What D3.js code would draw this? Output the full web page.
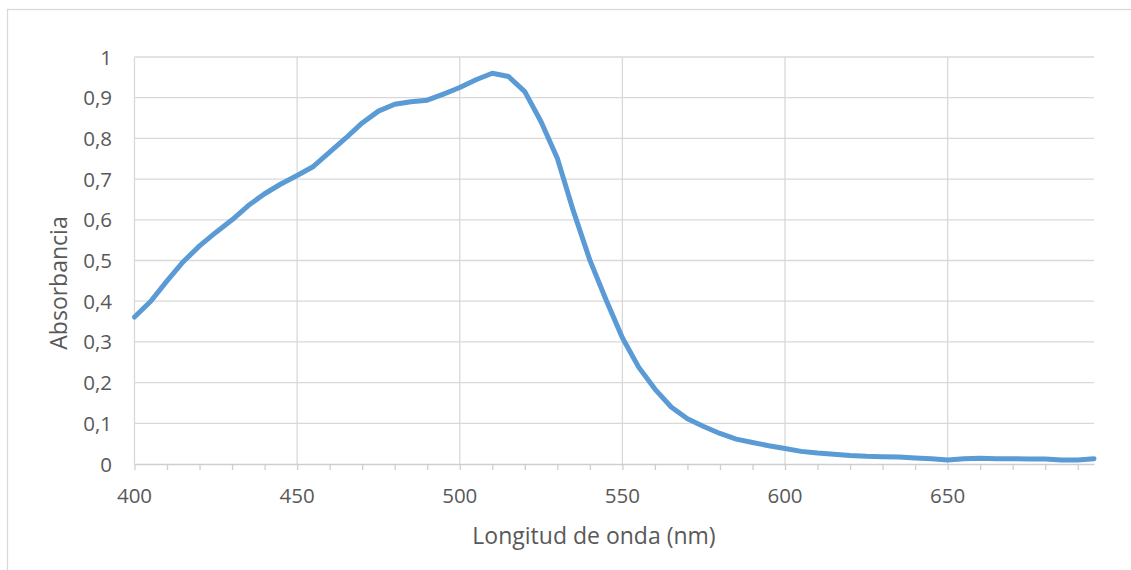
<!DOCTYPE html>
<html>
<head>
<meta charset="utf-8">
<script src="https://cdn.jsdelivr.net/npm/d3@7"></script>
<style>
  body { margin: 0; background: #fff; }
  text { font-family: 'Open Sans', sans-serif; fill: #595959; }
</style>
</head>
<body>
<div id="chart"></div>
<script>
// longitud de onda (nm) y absorbancia
const wavelengths = [400, 405, 410, 415, 420, 425, 430, 435, 440, 445, 450, 455, 460, 465, 470, 475,
  480, 485, 490, 495, 500, 505, 510, 515, 520, 525, 530, 535, 540, 545, 550, 555, 560, 565, 570,
  575, 580, 585, 590, 595, 600, 605, 610, 615, 620, 625, 630, 635, 640, 645, 650, 655, 660, 665,
  670, 675, 680, 685, 690, 695];
const absorbance = [0.361, 0.400, 0.450, 0.497, 0.536, 0.569, 0.600, 0.635, 0.664, 0.688, 0.709, 0.731,
  0.766, 0.801, 0.838, 0.867, 0.884, 0.890, 0.894, 0.909, 0.925, 0.944, 0.960, 0.952, 0.915,
  0.841, 0.751, 0.620, 0.501, 0.403, 0.310, 0.238, 0.184, 0.140, 0.111, 0.092, 0.075, 0.061,
  0.053, 0.045, 0.038, 0.031, 0.027, 0.024, 0.021, 0.019, 0.018, 0.017, 0.015, 0.013, 0.010,
  0.013, 0.014, 0.013, 0.013, 0.012, 0.012, 0.010, 0.010, 0.013];
const xTicks = [400, 450, 500, 550, 600, 650];
const xMinorTicks = d3.range(400, 691, 10);
const yTicks = d3.range(0, 1.01, 0.1);

const width = 1131, height = 570;
const margin = { top: 57, right: 37, bottom: 106, left: 134.5 };

const svg = d3.select('#chart')
  .append('svg')
  .attr('width', width)
  .attr('height', height);

// marco del gráfico
svg.append('rect')
  .attr('x', 7.5).attr('y', 9.5)
  .attr('width', width).attr('height', height)
  .attr('fill', 'none')
  .attr('stroke', '#d9d9d9')
  .attr('stroke-width', 1.3);

const x = d3.scaleLinear()
  .domain([400, 695])
  .range([margin.left, width - margin.right]);

const y = d3.scaleLinear()
  .domain([0, 1])
  .range([height - margin.bottom, margin.top]);

const fmt = d => d3.format('.1~f')(d).replace('.', ',');

// rejilla horizontal
svg.append('g')
  .selectAll('line')
  .data(yTicks.slice(1))
  .enter().append('line')
  .attr('x1', x(400)).attr('x2', x(695))
  .attr('y1', d => y(d)).attr('y2', d => y(d))
  .attr('stroke', '#d9d9d9')
  .attr('stroke-width', 1.3);

// rejilla vertical
svg.append('g')
  .selectAll('line')
  .data(xTicks)
  .enter().append('line')
  .attr('x1', d => x(d)).attr('x2', d => x(d))
  .attr('y1', y(0)).attr('y2', y(1))
  .attr('stroke', '#d9d9d9')
  .attr('stroke-width', 1.3);

// eje x
const xAxis = svg.append('g')
  .attr('transform', `translate(0,${y(0)})`)
  .call(d3.axisBottom(x).tickValues(xMinorTicks).tickSize(6).tickFormat('').tickSizeOuter(0));
xAxis.select('.domain').attr('stroke', '#cfcfcf').attr('stroke-width', 1.5);
xAxis.selectAll('.tick line').attr('stroke', '#cfcfcf').attr('stroke-width', 1.3);

svg.append('g')
  .selectAll('text')
  .data(xTicks)
  .enter().append('text')
  .attr('x', d => x(d))
  .attr('y', 503)
  .attr('text-anchor', 'middle')
  .style('font-size', '20.5px')
  .text(d => d);

// etiquetas eje y
svg.append('g')
  .selectAll('text')
  .data(yTicks)
  .enter().append('text')
  .attr('x', 112)
  .attr('y', d => y(d) + 7.5)
  .attr('text-anchor', 'end')
  .style('font-size', '20.5px')
  .text(d => fmt(d));

// curva
const line = d3.line()
  .x((d, i) => x(wavelengths[i]))
  .y(d => y(d));

svg.append('path')
  .datum(absorbance)
  .attr('d', line)
  .attr('fill', 'none')
  .attr('stroke', '#5b9bd5')
  .attr('stroke-width', 5)
  .attr('stroke-linejoin', 'round')
  .attr('stroke-linecap', 'round');

// títulos
svg.append('text')
  .attr('x', 594)
  .attr('y', 544)
  .attr('text-anchor', 'middle')
  .style('font-size', '23px')
  .text('Longitud de onda (nm)');

svg.append('text')
  .attr('transform', 'translate(67,283) rotate(-90)')
  .attr('text-anchor', 'middle')
  .style('font-size', '23px')
  .text('Absorbancia');
</script>
</body>
</html>
